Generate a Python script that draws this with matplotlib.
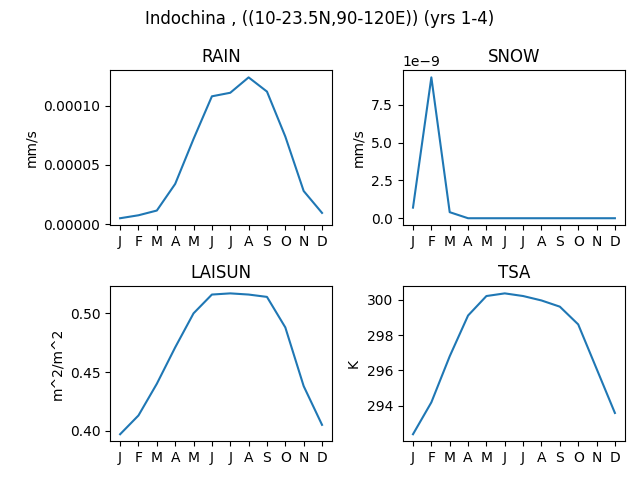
import matplotlib
matplotlib.use("Agg")
import matplotlib.pyplot as plt

months = ["J", "F", "M", "A", "M", "J", "J", "A", "S", "O", "N", "D"]
rain = [0.000005, 0.0000075, 0.0000115, 0.000034, 0.000072, 0.000108, 0.000111, 0.000124, 0.000112, 0.000074, 0.000028, 0.0000095]
snow = [0.7e-9, 9.3e-9, 0.4e-9, 0, 0, 0, 0, 0, 0, 0, 0, 0]
laisun = [0.397, 0.413, 0.440, 0.471, 0.500, 0.516, 0.517, 0.516, 0.514, 0.488, 0.438, 0.405]
tsa = [292.4, 294.2, 296.8, 299.1, 300.2, 300.35, 300.2, 299.95, 299.6, 298.6, 296.1, 293.6]

panels = [("RAIN", rain, "mm/s"), ("SNOW", snow, "mm/s"),
          ("LAISUN", laisun, "m^2/m^2"), ("TSA", tsa, "K")]

fig, axes = plt.subplots(2, 2, figsize=(6.4, 4.8))
for ax, (name, vals, unit) in zip(axes.flat, panels):
    ax.plot(range(12), vals)
    ax.set_title(name)
    ax.set_ylabel(unit)
    ax.set_xticks(range(12))
    ax.set_xticklabels(months)
fig.suptitle("Indochina , ((10-23.5N,90-120E)) (yrs 1-4)")
fig.tight_layout()
fig.savefig("out.png")
